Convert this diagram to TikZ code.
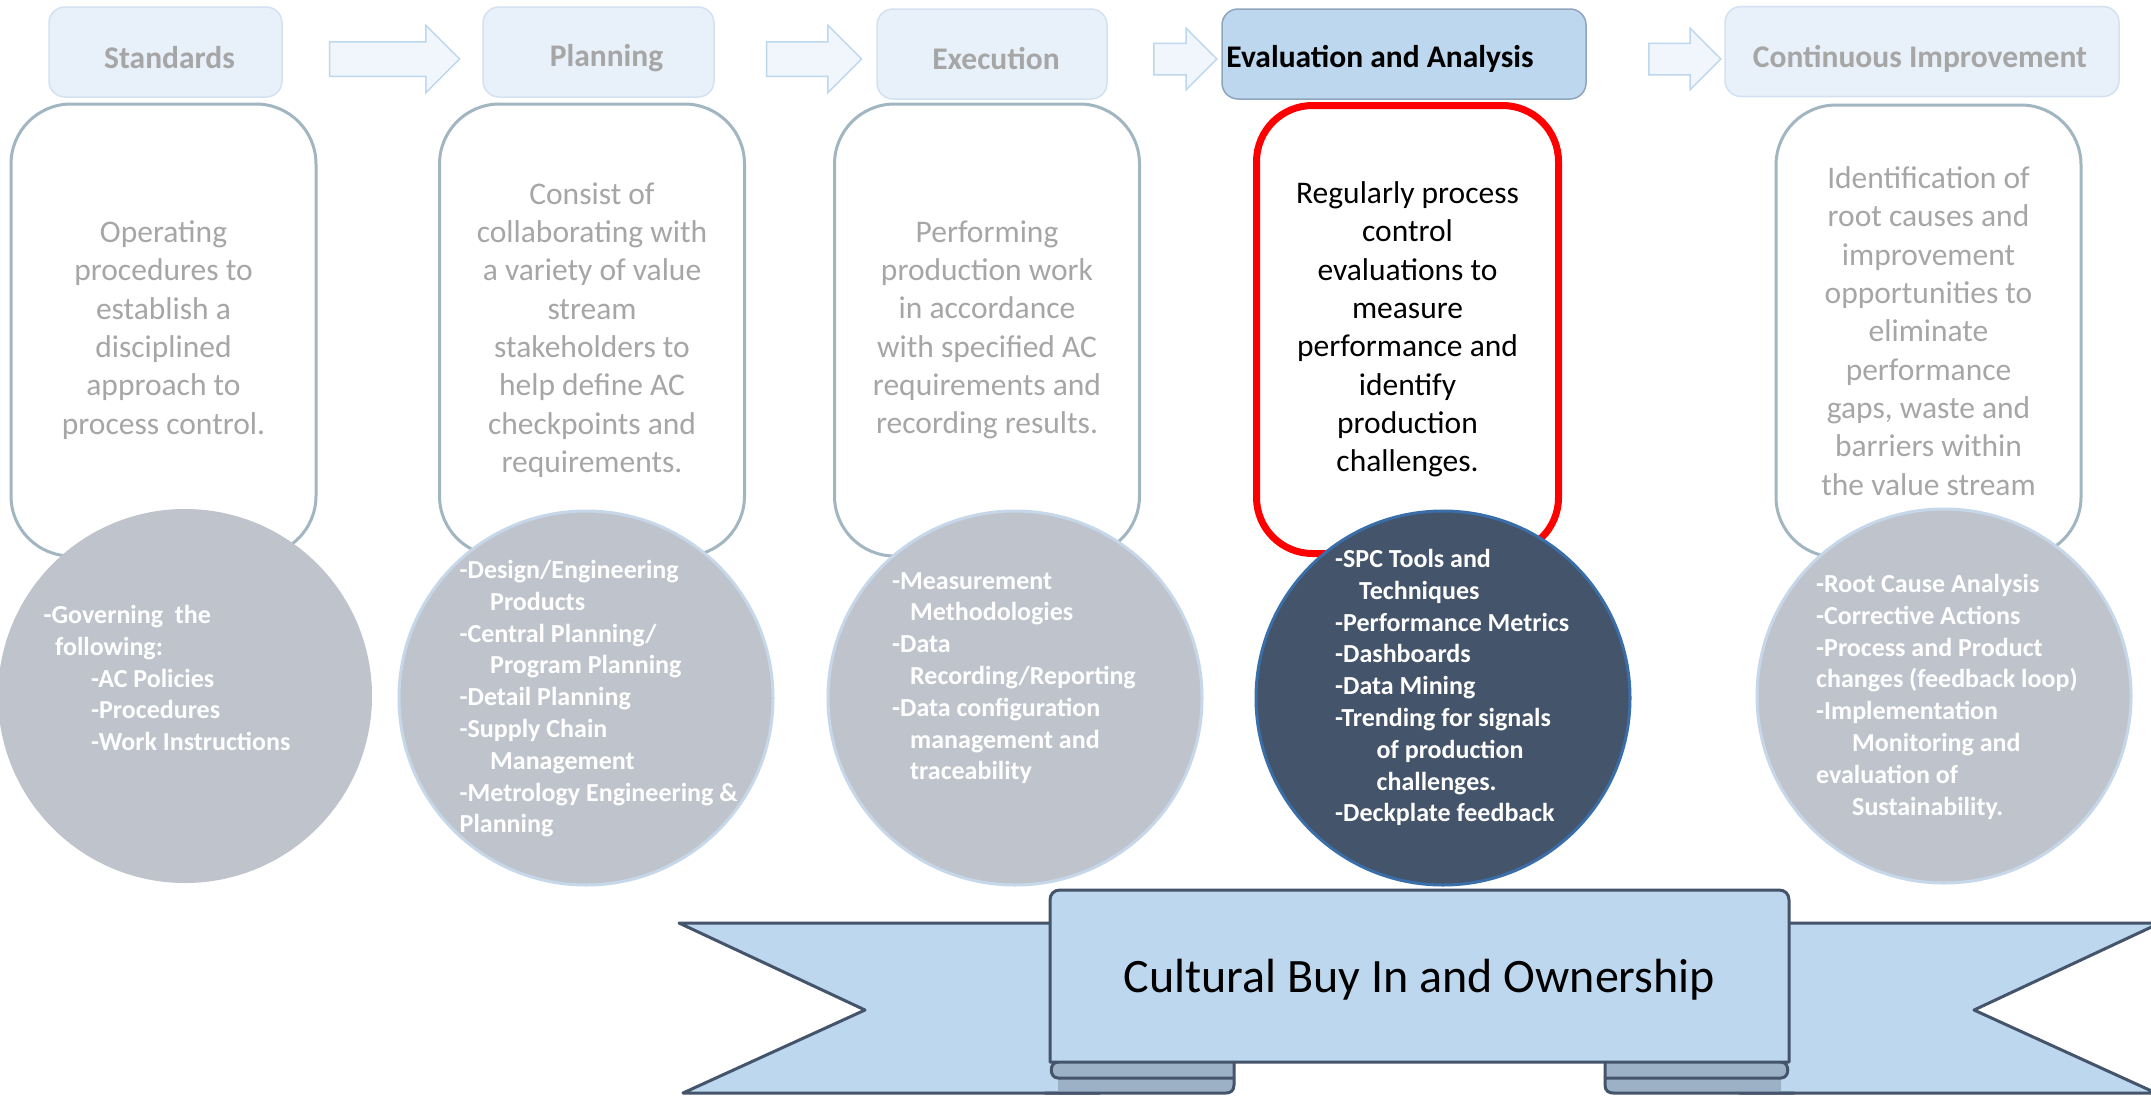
\documentclass[tikz,border=0pt]{standalone}
\usepackage{fontspec}
\setmainfont{Carlito}
\usetikzlibrary{shapes.arrows}

\definecolor{hdrfill}{HTML}{E8F0F9}
\definecolor{hdrline}{HTML}{D3E1F1}
\definecolor{greytext}{HTML}{A6A6A6}
\definecolor{evalfill}{HTML}{BDD7EE}
\definecolor{evalline}{HTML}{8FA5BE}
\definecolor{arrowfill}{HTML}{F1F6FC}
\definecolor{arrowline}{HTML}{BDD7EE}
\definecolor{boxline}{HTML}{A2B6C1}
\definecolor{discfill}{HTML}{BFC4CC}
\definecolor{discline}{HTML}{C6D7EA}
\definecolor{darkdisc}{HTML}{44546A}
\definecolor{darkline}{HTML}{3A6EA8}
\definecolor{ribbonfill}{HTML}{BDD7EE}
\definecolor{ribbonline}{HTML}{44546A}
\definecolor{foldfill}{HTML}{9DB1C6}

\tikzset{
  hdr/.style={draw=hdrline, fill=hdrfill, line width=1.5pt, rounded corners=16pt,
    minimum height=90pt, inner sep=0pt},
  hdrtext/.style={font=\bfseries\fontsize{31.5}{37}\selectfont, text=greytext, inner sep=0pt},
  flow/.style={single arrow, draw=arrowline, fill=arrowfill, line width=1.5pt,
    inner xsep=0pt, inner ysep=16.5pt, single arrow head extend=16.5pt},
  tallbox/.style={draw=boxline, fill=white, line width=3pt, rounded corners=60pt,
    minimum width=305pt, minimum height=452pt, align=center, text=greytext,
    font=\fontsize{31.5}{38.3}\selectfont},
  disc/.style={circle, fill=discfill, draw=discline, line width=3pt,
    minimum size=374pt, inner sep=0pt},
  disctext/.style={anchor=north west, align=left, inner sep=0pt, text=white,
    font=\bfseries\fontsize{26}{31.8}\selectfont},
  ribbon/.style={fill=ribbonfill, draw=ribbonline, line width=3pt, line join=round},
  ribbonedge/.style={draw=ribbonline, line width=3pt, line cap=round},
}

\begin{document}
\begin{tikzpicture}[x=1pt, y=-1pt]
\useasboundingbox (0,0) rectangle (2151,1095);
\fill[white] (0,0) rectangle (2151,1095);

% phase headers
\node[hdr, minimum width=233pt] (std) at (165.5,52) {};
\node[hdr, minimum width=231pt] (plan) at (598.5,52) {};
\node[hdr, minimum width=230pt] (exec) at (992,54) {};
\node[hdr, minimum width=364pt, fill=evalfill, draw=evalline] (eval) at (1404,54) {};
\node[hdr, minimum width=394pt] (impr) at (1922,51.5) {};

\node[hdrtext] (stdtext) at ([xshift=4pt,yshift=-6pt]std.center) {Standards};
\node[hdrtext] (plantext) at ([xshift=8pt,yshift=-6pt]plan.center) {Planning};
\node[hdrtext] (exectext) at ([xshift=4pt,yshift=-5pt]exec.center) {Execution};
\node[hdrtext, text=black, anchor=west] (evaltext) at ([xshift=5pt,yshift=-5pt]eval.west) {Evaluation and Analysis};
\node[hdrtext] (imprtext) at ([xshift=-2pt,yshift=-7pt]impr.center) {Continuous Improvement};

% block arrows between the headers
\node[flow, minimum height=130pt] (arr1) at (386,59) {};
\node[flow, minimum height=95pt] (arr2) at (805.5,59) {};
\node[flow, minimum height=63pt, inner ysep=15pt, single arrow head extend=15pt] (arr3) at (1177.5,59) {};
\node[flow, minimum height=72pt, inner ysep=15pt, single arrow head extend=15pt] (arr4) at (1677,59) {};

% description boxes
\node[tallbox] (box1) at (163.5,330) {Operating\\procedures to\\establish a\\disciplined\\approach to\\process control.};
\node[tallbox] (box2) at (592,330) {Consist of\\collaborating with\\a variety of value\\stream\\stakeholders to\\help define AC\\checkpoints and\\requirements.};
\node[tallbox] (box3) at (987,330) {Performing\\production work\\in accordance\\with specified AC\\requirements and\\recording results.};
\node[tallbox, draw=red, line width=7pt, minimum width=302pt, minimum height=448pt,
  rounded corners=56pt, text=black] (box4) at (1407.5,329.5) {Regularly process\\control\\evaluations to\\measure\\performance and\\identify\\production\\challenges.};
\node[tallbox] (box5) at (1928.5,331) {Identification of\\root causes and\\improvement\\opportunities to\\eliminate\\performance\\gaps, waste and\\barriers within\\the value stream};

% discs with the activities
\node[disc, draw=none] (disc1) at (185,696) {};
\node[disc] (disc2) at (586,698) {};
\node[disc] (disc3) at (1015,698) {};
\node[disc, fill=darkdisc, draw=darkline] (disc4) at (1443,698) {};
\node[disc] (disc5) at (1944,696) {};

\node[disctext] (list1) at (43.5,605) {-Governing~~the\\\hspace*{11.5pt}following:\\\hspace*{47.5pt}-AC Policies\\\hspace*{47.5pt}-Procedures\\\hspace*{47.5pt}-Work Instructions};
\node[disctext] (list2) at (459.5,560) {-Design/Engineering\\\hspace*{30.5pt}Products\\-Central Planning/\\\hspace*{30.5pt}Program Planning\\-Detail Planning\\-Supply Chain\\\hspace*{30.5pt}Management\\-Metrology Engineering \&\\Planning};
\node[disctext] (list3) at (892,572) {-Measurement\\\hspace*{18pt}Methodologies\\-Data\\\hspace*{18pt}Recording/Reporting\\-Data configuration\\\hspace*{18pt}management and\\\hspace*{18pt}traceability};
\node[disctext] (list4) at (1335,549) {-SPC Tools and\\\hspace*{24pt}Techniques\\-Performance Metrics\\-Dashboards\\-Data Mining\\-Trending for signals\\\hspace*{41.5pt}of production\\\hspace*{41.5pt}challenges.\\-Deckplate feedback};
\node[disctext] (list5) at (1816,574) {-Root Cause Analysis\\-Corrective Actions\\-Process and Product\\changes (feedback loop)\\-Implementation\\\hspace*{36pt}Monitoring and\\evaluation of\\\hspace*{36pt}Sustainability.};

% ribbon: tails, folds, centre panel
\filldraw[ribbon] (1100,923) -- (679,923) -- (865,1010) -- (683,1093) -- (1100,1093) -- cycle;
\filldraw[ribbon] (1739,923) -- (2160,923) -- (1974,1010) -- (2156,1093) -- (1739,1093) -- cycle;

\fill[foldfill] (1058,1062) -- (1234,1062) -- (1234,1085) .. controls (1234,1091) and (1230,1093) .. (1226,1093)
  -- (1058,1093) -- (1058,1078) .. controls (1049,1078) and (1049,1062) .. (1058,1062) -- cycle;
\draw[ribbonedge] (1234,1078) -- (1058,1078) .. controls (1049,1078) and (1049,1062) .. (1058,1062);
\draw[ribbonedge] (1045,1093) -- (1226,1093) .. controls (1230,1093) and (1234,1091) .. (1234,1085) -- (1234,1062);

\fill[foldfill] (1781,1062) -- (1605,1062) -- (1605,1085) .. controls (1605,1091) and (1609,1093) .. (1613,1093)
  -- (1781,1093) -- (1781,1078) .. controls (1790,1078) and (1790,1062) .. (1781,1062) -- cycle;
\draw[ribbonedge] (1605,1078) -- (1781,1078) .. controls (1790,1078) and (1790,1062) .. (1781,1062);
\draw[ribbonedge] (1794,1093) -- (1613,1093) .. controls (1609,1093) and (1605,1091) .. (1605,1085) -- (1605,1062);

\filldraw[ribbon] (1050,1062) -- (1050,900) .. controls (1050,894) and (1054,890) .. (1060,890)
  -- (1779,890) .. controls (1785,890) and (1789,894) .. (1789,900) -- (1789,1062) -- cycle;

\node[font=\fontsize{48}{58}\selectfont, inner sep=0pt] (motto) at (1419.5,980) {Cultural Buy In and Ownership};
\end{tikzpicture}
\end{document}
